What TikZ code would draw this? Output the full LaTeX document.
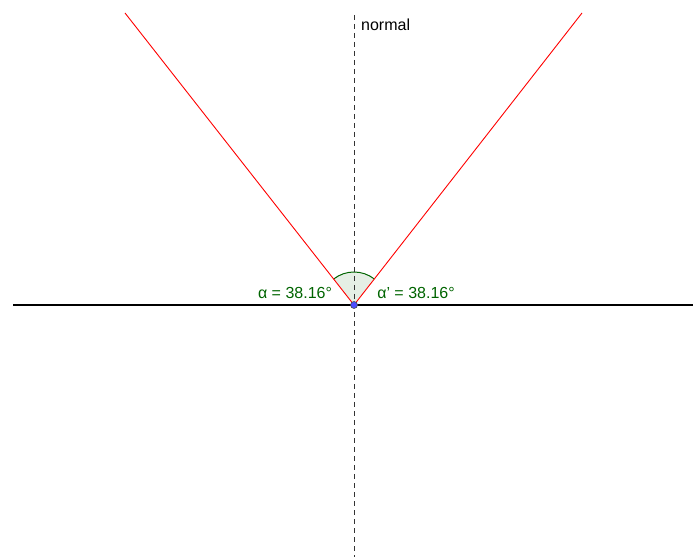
\documentclass[tikz,border=0pt]{standalone}
\usepackage{fontspec}
\setmainfont{Liberation Sans}
\usetikzlibrary{calc}
\definecolor{ggreen}{RGB}{0,100,0}
\definecolor{gred}{RGB}{255,0,0}
\definecolor{gblue}{RGB}{77,77,255}
\tikzset{
  ray/.style={draw=gred, line width=0.9pt},
  surface/.style={draw=black, line width=2pt},
  normalline/.style={draw=black!80, line width=1pt, dash pattern=on 5pt off 4pt},
  anglesector/.style={fill=ggreen, fill opacity=0.1, draw=none},
  anglearc/.style={draw=ggreen, line width=1pt},
  anglelabel/.style={text=ggreen, font=\fontsize{16}{19}\selectfont, inner sep=0pt},
  plainlabel/.style={text=black, font=\fontsize{16}{19}\selectfont, inner sep=0pt, anchor=west},
}
\begin{document}
\begin{tikzpicture}[x=1pt,y=1pt]
\useasboundingbox (0,0) rectangle (693,557);
\coordinate (O) at (354,252);
\coordinate (L) at (125,544);
\coordinate (R) at (582,544);
\coordinate (HL) at (13,252);
\coordinate (HR) at (693,252);
\coordinate (NT) at (354,542);
\coordinate (NB) at (354,0);
% sectors
\fill[anglesector] (O) -- ++(90:33) arc[start angle=90, end angle=128.16, radius=33] -- cycle;
\fill[anglesector] (O) -- ++(51.84:33) arc[start angle=51.84, end angle=90, radius=33] -- cycle;
\draw[anglearc] ($(O)+(51.84:33)$) arc[start angle=51.84, end angle=128.16, radius=33];
% lines
\draw[normalline] (NT) -- (NB);
\draw[ray] (O) -- (L);
\draw[ray] (O) -- (R);
\draw[surface] (HL) -- (HR);
\node[plainlabel] (nlab) at (361,532) {normal};
\node[anglelabel] (a1) at (295,264) {α = 38.16°};
\node[anglelabel] (a2) at (416,264) {α' = 38.16°};
\node[circle, fill=gblue, draw=black!70, line width=0.6pt, minimum size=7pt, inner sep=0pt] (P) at (O) {};
\end{tikzpicture}
\end{document}
